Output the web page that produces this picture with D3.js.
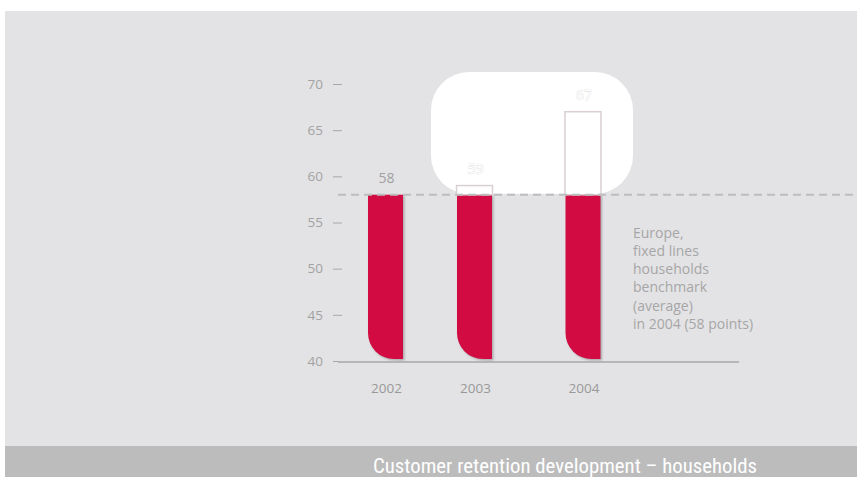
<!DOCTYPE html>
<html>
<head>
<meta charset="utf-8">
<script src="https://cdn.jsdelivr.net/npm/d3@7"></script>
<style>
  html, body { margin: 0; padding: 0; background: #ffffff; }
  svg { display: block; }
</style>
</head>
<body>
<svg id="chart" width="857" height="477"></svg>
<script>
// Customer retention scores, households (index points)
const years = ["2002", "2003", "2004"];
const retention = [58, 59, 67];
const benchmark = 58;            // Europe fixed-lines households average, 2004
const yTicks = [40, 45, 50, 55, 60, 65, 70];
const noteLines = ["Europe,", "fixed lines", "households", "benchmark", "(average)", "in 2004 (58 points)"];
const title = "Customer retention development \u2013 households";

const svg = d3.select("#chart");
const W = 857, H = 477;
const font = "'Open Sans', 'DejaVu Sans', sans-serif";
const fs = 14;

// panel background and caption band
svg.append("rect").attr("x", 5).attr("y", 11).attr("width", W - 5).attr("height", H - 11).attr("fill", "#e3e3e5");
svg.append("rect").attr("x", 5).attr("y", 446).attr("width", W - 5).attr("height", H - 446).attr("fill", "#bcbcbd");
svg.append("text")
  .attr("x", 565).attr("y", 472.5)
  .attr("text-anchor", "middle")
  .attr("font-family", "'Liberation Sans Narrow', 'Arial Narrow', 'Roboto Condensed', sans-serif")
  .attr("font-size", 20.8)
  .attr("fill", "#ffffff")
  .text(title);

// scales
const y = d3.scaleLinear().domain([40, 70]).range([361, 84]);
const x = d3.scaleOrdinal().domain(years).range([385.5, 474.5, 583]);
const barW = 35;
const r = 26;

// highlight panel behind the gains above the benchmark
svg.append("rect")
  .attr("x", 431).attr("y", y(71.3))
  .attr("width", 202).attr("height", y(benchmark) - y(71.3) - 1)
  .attr("rx", 38).attr("ry", 38)
  .attr("fill", "#ffffff");

// y axis: short tick dashes with labels, no spine
const yAxis = d3.axisLeft(y).tickValues(yTicks).tickSize(9).tickPadding(10);
const gy = svg.append("g").attr("transform", "translate(342,0)").call(yAxis);
gy.select(".domain").remove();
gy.selectAll(".tick line").attr("stroke", "#a8a8a8").attr("stroke-width", 1);
gy.selectAll(".tick text")
  .attr("fill", "#a2a2a2")
  .attr("font-family", font)
  .attr("font-size", 13.5);

// baseline
svg.append("line")
  .attr("x1", 338).attr("x2", 739)
  .attr("y1", y(40) + 1).attr("y2", y(40) + 1)
  .attr("stroke", "#b6b6b8").attr("stroke-width", 2);

// red bar body: value up to the benchmark, rounded bottom-left corner
function barPath(cx, top, bottom) {
  const x0 = cx - barW / 2, x1 = cx + barW / 2;
  return `M${x0},${top}H${x1}V${bottom}H${x0 + r}A${r},${r} 0 0 1 ${x0},${bottom - r}Z`;
}

const defs = svg.append("defs");
defs.append("filter").attr("id", "soft")
  .append("feGaussianBlur").attr("stdDeviation", 0.8);

const data = years.map((d, i) => ({ year: d, value: retention[i] }));
const barTop = d => y(Math.min(d.value, benchmark));

svg.append("g").selectAll("path").data(data).join("path")
  .attr("d", d => barPath(x(d.year) + 1.5, barTop(d) + 1, y(40) - 0.5))
  .attr("fill", "#a9a9ab")
  .attr("filter", "url(#soft)");

svg.append("g").selectAll("path").data(data).join("path")
  .attr("d", d => barPath(x(d.year), barTop(d), y(40) - 2))
  .attr("fill", "#d20c42");

// gains above the benchmark, drawn as outlined boxes
const gains = data.filter(d => d.value > benchmark);
svg.append("g").selectAll("rect").data(gains).join("rect")
  .attr("x", d => x(d.year) - barW / 2 - 0.5)
  .attr("y", d => y(d.value))
  .attr("width", barW + 1)
  .attr("height", d => y(benchmark) - y(d.value))
  .attr("fill", "#ffffff")
  .attr("stroke", "#d8cfd2")
  .attr("stroke-width", 1.5);

// benchmark line
svg.append("line")
  .attr("x1", 338).attr("x2", W)
  .attr("y1", y(benchmark)).attr("y2", y(benchmark))
  .attr("stroke", "#bdbdbf").attr("stroke-width", 2)
  .attr("stroke-dasharray", "8,5");

// value labels
svg.append("g").selectAll("text").data(data).join("text")
  .attr("x", d => x(d.year) + 1)
  .attr("y", d => y(d.value) - 12)
  .attr("text-anchor", "middle")
  .attr("font-family", font)
  .attr("font-size", fs)
  .attr("fill", d => d.value > benchmark ? "#ffffff" : "#a0a0a0")
  .attr("stroke", d => d.value > benchmark ? "#d4d4d6" : "none")
  .attr("stroke-width", 0.6)
  .attr("paint-order", "stroke")
  .text(d => d.value);

// year labels
svg.append("g").selectAll("text").data(years).join("text")
  .attr("x", d => x(d) + 1)
  .attr("y", 393)
  .attr("text-anchor", "middle")
  .attr("font-family", font)
  .attr("font-size", 13.5)
  .attr("fill", "#999999")
  .text(d => d);

// benchmark note
svg.append("text")
  .attr("font-family", font)
  .attr("font-size", fs)
  .attr("fill", "#a6a6a6")
  .selectAll("tspan").data(noteLines).join("tspan")
  .attr("x", 633)
  .attr("y", (d, i) => 237.5 + i * 18.3)
  .text(d => d);
</script>
</body>
</html>
